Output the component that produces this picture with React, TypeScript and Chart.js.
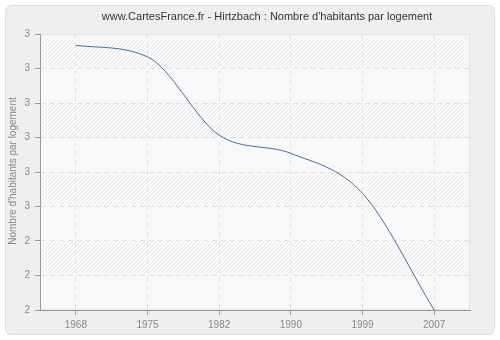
import React, { useEffect, useRef } from "react";
import { Chart, registerables } from "chart.js";

Chart.register(...registerables);

const years = ["1968", "1975", "1982", "1990", "1999", "2007"];
const values = [2.967, 2.934, 2.707, 2.654, 2.538, 2.2];
const yMin = 2.2;
const yMax = 3.0;
const yStep = 0.1;
const titleText = "www.CartesFrance.fr - Hirtzbach : Nombre d'habitants par logement";
const yTitleText = "Nombre d'habitants par logement";

const FONT = "Liberation Sans";

export default function App() {
  const ref = useRef<HTMLCanvasElement>(null);

  useEffect(() => {
    document.body.style.margin = "0";
    const canvas = ref.current;
    if (!canvas) return;

    const bgPlugin = {
      id: "bgPlugin",
      beforeDraw(chart: any) {
        const ctx = chart.ctx as CanvasRenderingContext2D;
        const { left, right, top, bottom } = chart.chartArea;
        ctx.save();
        ctx.fillStyle = "#ffffff";
        ctx.fillRect(0, 0, chart.width, chart.height);
        const px = 5.5, py = 5.5, pw = 489, ph = 329, r = 6;
        ctx.beginPath();
        ctx.moveTo(px + r, py);
        ctx.lineTo(px + pw - r, py);
        ctx.arcTo(px + pw, py, px + pw, py + r, r);
        ctx.lineTo(px + pw, py + ph - r);
        ctx.arcTo(px + pw, py + ph, px + pw - r, py + ph, r);
        ctx.lineTo(px + r, py + ph);
        ctx.arcTo(px, py + ph, px, py + ph - r, r);
        ctx.lineTo(px, py + r);
        ctx.arcTo(px, py, px + r, py, r);
        ctx.closePath();
        ctx.fillStyle = "#efefef";
        ctx.fill();
        ctx.strokeStyle = "#dddddd";
        ctx.lineWidth = 1;
        ctx.stroke();

        ctx.fillStyle = "#fbfbfb";
        ctx.fillRect(left, top, right - left, bottom - top);
        ctx.save();
        ctx.beginPath();
        ctx.rect(left, top, right - left, bottom - top);
        ctx.clip();
        ctx.strokeStyle = "#e6e6e6";
        ctx.lineWidth = 1;
        const h = bottom - top;
        for (let x = left - h; x < right + 5; x += 4) {
          ctx.beginPath();
          ctx.moveTo(x, bottom);
          ctx.lineTo(x + h, top);
          ctx.stroke();
        }
        const ys = chart.scales.y;
        const ticks = ys.ticks;
        for (let i = 0; i < ticks.length - 1; i++) {
          const idxFromTop = ticks.length - 2 - i;
          if (idxFromTop % 2 === 1) {
            const y1 = ys.getPixelForValue(ticks[i].value);
            const y2 = ys.getPixelForValue(ticks[i + 1].value);
            ctx.fillStyle = "rgba(250,250,250,0.8)";
            ctx.fillRect(left, y2, right - left, y1 - y2);
          }
        }
        ctx.restore();
        ctx.strokeStyle = "#e2e2e2";
        ctx.strokeRect(left + 0.5, top + 0.5, right - left - 1, bottom - top - 1);
        ctx.restore();
      },
      afterDraw(chart: any) {
        const ctx = chart.ctx as CanvasRenderingContext2D;
        ctx.save();
        ctx.fillStyle = "#333333";
        ctx.font = `11px "${FONT}"`;
        ctx.textAlign = "center";
        ctx.textBaseline = "middle";
        ctx.fillText(titleText, 267, 17);
        ctx.fillStyle = "#888888";
        ctx.font = `10px "${FONT}"`;
        ctx.translate(13, 171);
        ctx.rotate(-Math.PI / 2);
        ctx.fillText(yTitleText, 0, 0);
        ctx.restore();
      },
    };

    const chart = new Chart(canvas, {
      type: "line",
      data: {
        labels: years,
        datasets: [
          {
            data: values,
            borderColor: "#44709f",
            borderWidth: 1,
            pointRadius: 0,
            cubicInterpolationMode: "monotone",
            fill: false,
          },
        ],
      },
      options: {
        responsive: false,
        animation: false,
        devicePixelRatio: 1,
        layout: { padding: { top: 34, right: 30, left: 0, bottom: 0 } },
        plugins: {
          legend: { display: false },
          title: { display: false },
          tooltip: { enabled: false },
        },
        scales: {
          x: {
            type: "category",
            offset: true,
            afterFit: (s: any) => {
              s.height = 30;
            },
            grid: {
              offset: false,
              color: "#e0e0e0",
              tickColor: "#999999",
              tickLength: 5,
              tickBorderDash: [],
            },
            border: { color: "#999999", width: 1, dash: [5, 4] },
            ticks: {
              color: "#888888",
              font: { family: FONT, size: 10 },
              padding: 4,
              maxRotation: 0,
            },
          },
          y: {
            min: yMin,
            max: yMax,
            afterFit: (s: any) => {
              s.width = 40;
            },
            grid: {
              color: "#e0e0e0",
              tickColor: "#999999",
              tickLength: 5,
              tickBorderDash: [],
            },
            border: { color: "#999999", width: 1, dash: [5, 4] },
            ticks: {
              stepSize: yStep,
              color: "#888888",
              font: { family: FONT, size: 10 },
              padding: 5,
              callback: (v: any) => String(Math.round(Number(v))),
            },
          },
        },
      },
      plugins: [bgPlugin],
    });
    return () => chart.destroy();
  }, []);

  return (
    <div style={{ width: 500, height: 340 }}>
      <canvas ref={ref} width={500} height={340} style={{ display: "block" }} />
    </div>
  );
}
